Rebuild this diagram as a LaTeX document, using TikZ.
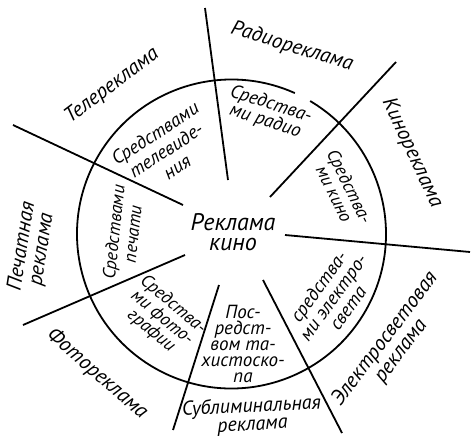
\documentclass[tikz,border=0pt]{standalone}
\usepackage{fontspec}
\setmainfont{PT Sans}
\begin{document}
\begin{tikzpicture}[x=1pt,y=-1pt,
  lbl/.style={font=\fontsize{19}{18}\selectfont\itshape, align=center, inner sep=0pt},
  outer/.style={lbl, font=\fontsize{21}{20}\selectfont\itshape},
  inner/.style={lbl},
  ray/.style={line width=1.8pt}]
\useasboundingbox (0,0) rectangle (471,439);
% ring
\coordinate (c) at (231.5,234);
\draw[ray] (c) ++(-59.4:154.5) arc[start angle=-59.4, end angle=294.2, radius=154.5];
% rays
\coordinate (a1) at (228,180); \coordinate (b1) at (205,8);
\coordinate (a2) at (270,197); \coordinate (b2) at (396,62);
\coordinate (a3) at (285,235); \coordinate (b3) at (470,252);
\coordinate (a4) at (263,280); \coordinate (b4) at (342,433);
\coordinate (a5) at (219,285); \coordinate (b5) at (173,430);
\coordinate (a6) at (185,255); \coordinate (b6) at (23,325);
\coordinate (a7) at (183,205); \coordinate (b7) at (13,125);
\foreach \i in {1,...,7} \draw[ray] (a\i) -- (b\i);
% outer labels
\node[outer, rotate=37] (tele) at (112,86) {Телереклама};
\node[outer, rotate=-17] (radio) at (292,47) {Радиореклама};
\node[outer, rotate=-65] (kino) at (412,153) {Кинореклама};
\node[outer, rotate=53] (elek) at (393,345) {Электросветовая\\реклама};
\node[outer, rotate=3, font=\fontsize{20}{18}\selectfont\itshape] (subl) at (252,416) {Сублиминальная\\реклама};
\node[outer, rotate=-41] (foto) at (97,374) {Фотореклама};
\node[outer, rotate=81] (pech) at (32,248) {Печатная\\реклама};
% inner labels
\node[inner, rotate=33, font=\fontsize{19}{20}\selectfont\itshape] (itele) at (166,150) {Средствами\\телевиде-\\ния};
\node[inner, rotate=-18] (iradio) at (268,113) {Средства-\\ми радио};
\node[inner, rotate=-64, font=\fontsize{18}{17}\selectfont\itshape] (ikino) at (342,190) {Средства-\\ми кино};
\node[inner, rotate=54] (ielek) at (333,297) {средства-\\ми электро-\\света};
\node[inner, font=\fontsize{19}{16}\selectfont\itshape] (itah) at (243,344) {Пос-\\редст-\\вом та-\\хистоско-\\па};
\node[inner, rotate=-40, font=\fontsize{18}{17}\selectfont\itshape] (ifoto) at (162,318) {Средства-\\ми фото-\\графии};
\node[inner, rotate=84, font=\fontsize{18}{19}\selectfont\itshape] (ipech) at (123,233) {Средствами\\печати};
\node[lbl, font=\fontsize{24}{20}\selectfont\itshape] (center) at (233,232) {Реклама\\кино};
\end{tikzpicture}
\end{document}
